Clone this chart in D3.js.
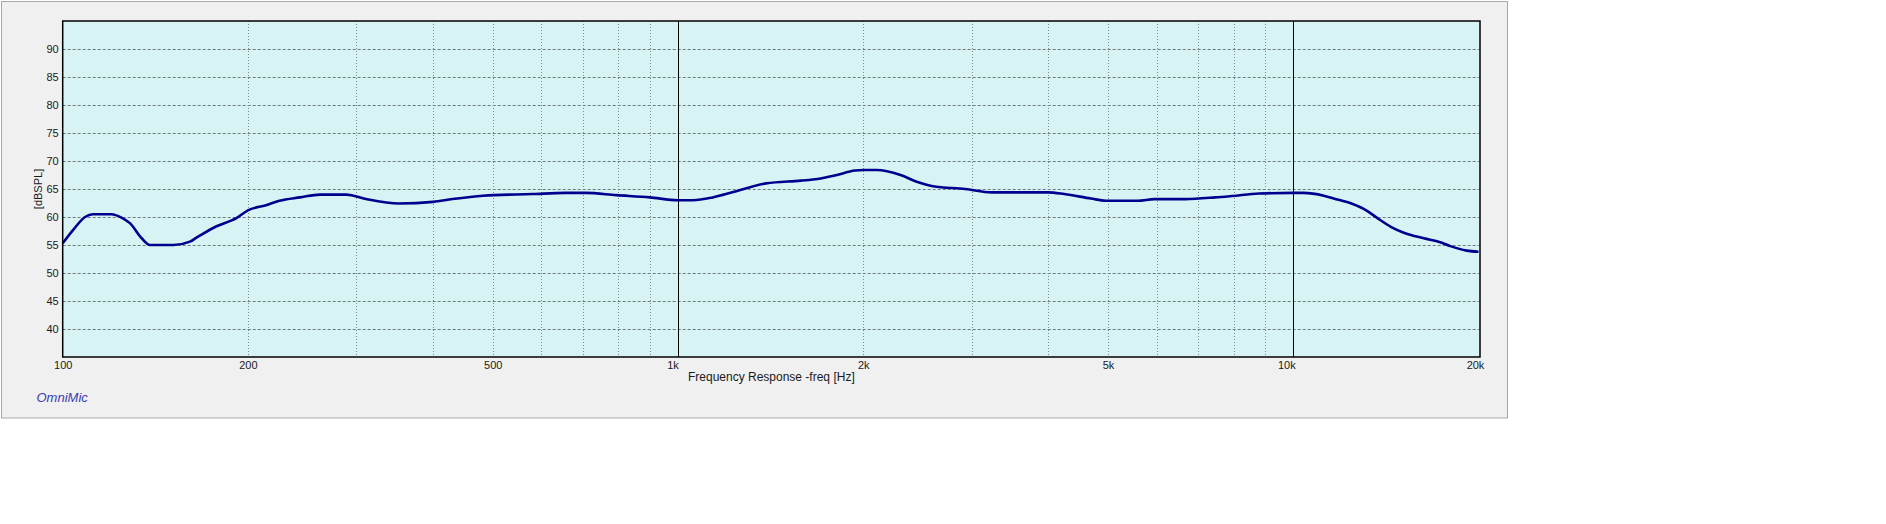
<!DOCTYPE html>
<html>
<head>
<meta charset="utf-8">
<script src="https://cdn.jsdelivr.net/npm/d3@7"></script>
<style>
  html, body { margin: 0; padding: 0; background: #ffffff; }
  svg { display: block; font-family: "Liberation Sans", Arial, sans-serif; }
</style>
</head>
<body>
<svg id="chart" width="1886" height="524"></svg>
<script>
// ---- data ----
const freqHz = [100, 104, 108.7, 112, 120, 124.6, 128.6, 134.4, 138.6, 151.4, 161, 165, 177.5, 191.5, 200, 214, 225, 243, 262, 289, 311,
  352, 400, 430, 482, 580, 657, 708, 794, 900, 1000, 1058, 1139, 1225, 1391, 1582, 1686, 1797, 1940, 2000, 2103,
  2300, 2444, 2596, 2929, 3234, 3993, 4245, 4688, 4960, 5585, 5950, 6674, 7465, 7950, 8800, 10000, 10385, 11210,
  11630, 12400, 13180, 13700, 14430, 15120, 16300, 17330, 18000, 19130, 20000];
const splDb = [55.3, 57.7, 60.0, 60.5, 60.5, 59.9, 58.9, 56.2, 55.0, 55.0, 55.6, 56.3, 58.3, 59.8, 61.2, 62.1, 62.9, 63.5, 64.0, 64.0, 63.2,
  62.4, 62.7, 63.2, 63.8, 64.1, 64.3, 64.3, 63.9, 63.5, 63.0, 63.0, 63.5, 64.4, 66.0, 66.5, 66.8, 67.4, 68.3, 68.4, 68.4,
  67.5, 66.3, 65.5, 65.0, 64.4, 64.4, 64.1, 63.3, 62.9, 62.9, 63.2, 63.2, 63.5, 63.75, 64.2, 64.3, 64.3, 63.8,
  63.3, 62.45, 61.1, 59.8, 58.2, 57.2, 56.2, 55.5, 54.8, 54.0, 53.8];
const yTicks = [40, 45, 50, 55, 60, 65, 70, 75, 80, 85, 90];
const xLabelTicks = [100, 200, 500, 1000, 2000, 5000, 10000, 20000];
const xLabelText = ["100", "200", "500", "1k", "2k", "5k", "10k", "20k"];
const xMinorGrid = [200, 300, 400, 500, 600, 700, 800, 900, 2000, 3000, 4000, 5000, 6000, 7000, 8000, 9000];
const xMajorGrid = [1000, 10000];
const xDomain = [100, 20000];
const yDomain = [35, 95];
const xTitle = "Frequency Response -freq [Hz]";
const yTitle = "[dBSPL]";
const brand = "OmniMic";

// ---- layout ----
const svg = d3.select("#chart");
const L = 62.7, R = 1478.5, FR = 1480, T = 21, B = 357;
const x = d3.scaleLog().domain(xDomain).range([L, R]);
const y = d3.scaleLinear().domain(yDomain).range([B, T]);

// outer panel
svg.append("rect").attr("x", 1.5).attr("y", 1.5).attr("width", 1506).attr("height", 416.5)
  .attr("fill", "#f0f0f0").attr("stroke", "#a8a8a8").attr("stroke-width", 1);

// plot background
svg.append("rect").attr("x", L).attr("y", T).attr("width", FR - L).attr("height", B - T)
  .attr("fill", "#d8f3f3");

// horizontal grid
svg.append("g").selectAll("line").data(yTicks).join("line")
  .attr("x1", L).attr("x2", FR - 1)
  .attr("y1", d => Math.round(y(d)) + 0.5).attr("y2", d => Math.round(y(d)) + 0.5)
  .attr("stroke", "#6e7c7e").attr("stroke-width", 1).attr("stroke-dasharray", "3,2");

// vertical minor grid
svg.append("g").selectAll("line").data(xMinorGrid).join("line")
  .attr("x1", d => Math.round(x(d)) + 0.5).attr("x2", d => Math.round(x(d)) + 0.5)
  .attr("y1", T).attr("y2", B)
  .attr("stroke", "#7d8c8e").attr("stroke-width", 1).attr("stroke-dasharray", "1,2");

// vertical major grid
svg.append("g").selectAll("line").data(xMajorGrid).join("line")
  .attr("x1", d => Math.round(x(d)) + 0.5).attr("x2", d => Math.round(x(d)) + 0.5)
  .attr("y1", T).attr("y2", B)
  .attr("stroke", "#000000").attr("stroke-width", 1);

// curve
const pts = freqHz.map((f, i) => [f, splDb[i]]);
svg.append("path").datum(pts)
  .attr("d", d3.line().x(d => x(d[0])).y(d => y(d[1])).curve(d3.curveMonotoneX))
  .attr("fill", "none").attr("stroke", "#00008f").attr("stroke-width", 2.6)
  .attr("stroke-linejoin", "round");

// plot border
svg.append("rect").attr("x", L).attr("y", T).attr("width", FR - L).attr("height", B - T)
  .attr("fill", "none").attr("stroke", "#000").attr("stroke-width", 1.5);

// y axis
const yAxis = svg.append("g").attr("transform", `translate(${L},0)`)
  .call(d3.axisLeft(y).tickValues(yTicks).tickSize(0).tickPadding(4).tickFormat(d3.format("d")));
yAxis.select(".domain").remove();
yAxis.selectAll("text").attr("font-size", 11).attr("fill", "#1a1a1a")
  .attr("font-family", "'Liberation Sans', Arial, sans-serif");

// x axis
const labelShift = {1000: -5.5, 10000: -7, 20000: -3.5};
const xAxis = svg.append("g").attr("transform", `translate(0,${B})`)
  .call(d3.axisBottom(x).tickValues(xLabelTicks).tickSize(0).tickPadding(4)
    .tickFormat((d, i) => xLabelText[i]));
xAxis.select(".domain").remove();
xAxis.selectAll("text").attr("font-size", 11).attr("fill", "#1a1a1a")
  .attr("font-family", "'Liberation Sans', Arial, sans-serif")
  .attr("dx", d => labelShift[d] || 0);

// titles
svg.append("text").attr("x", (L + FR) / 2).attr("y", 381).attr("text-anchor", "middle")
  .attr("font-size", 12).attr("fill", "#1a1a1a").text(xTitle);
svg.append("text").attr("transform", `translate(42,${(T + B) / 2}) rotate(-90)`)
  .attr("text-anchor", "middle").attr("font-size", 11).attr("fill", "#1a1a1a").text(yTitle);
svg.append("text").attr("x", 36.5).attr("y", 402).attr("font-size", 13).attr("font-style", "italic")
  .attr("fill", "#3a3ab0").text(brand);
</script>
</body>
</html>
